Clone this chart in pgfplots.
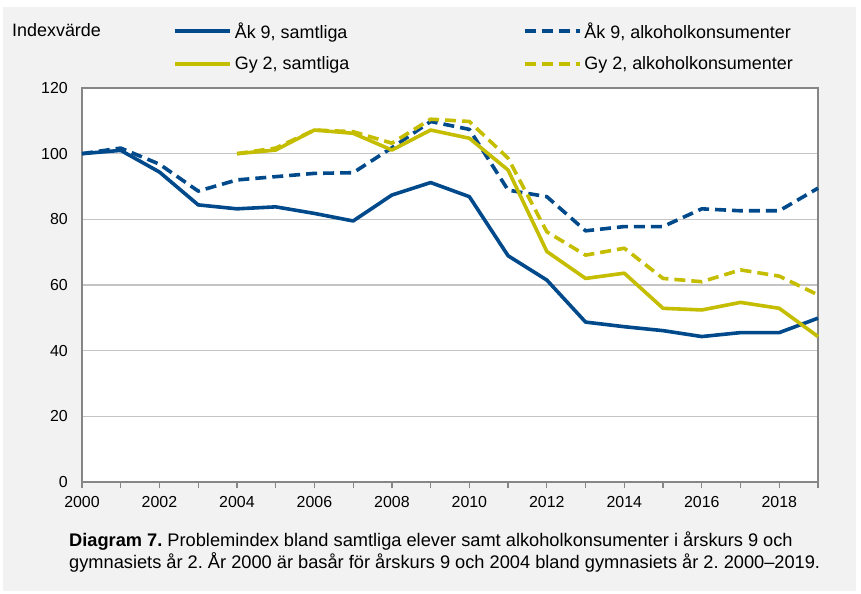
\documentclass[border=0pt]{standalone}
\usepackage{pgfplots}
\pgfplotsset{compat=1.18}
\usepackage{fontspec}
\setmainfont{Liberation Sans}
\frenchspacing
\definecolor{bl}{RGB}{0,74,140}
\definecolor{ye}{RGB}{196,189,0}
\definecolor{bg}{RGB}{242,242,242}
\definecolor{gridc}{RGB}{196,196,196}
\definecolor{axc}{RGB}{134,134,134}

\pgfplotstableread{
year a9s a9a
2000 100 100
2001 101 101.7
2002 94.4 96.8
2003 84.4 88.6
2004 83.2 92.0
2005 83.8 93.0
2006 81.8 94.0
2007 79.5 94.2
2008 87.4 101.8
2009 91.2 109.8
2010 86.9 107.4
2011 68.9 88.9
2012 61.5 86.9
2013 48.7 76.5
2014 47.3 77.8
2015 46.1 77.8
2016 44.3 83.2
2017 45.5 82.6
2018 45.5 82.6
2019 49.9 89.5
}\akdata

\pgfplotstableread{
year g2s g2a
2004 100 100
2005 101.1 101.7
2006 107.2 107.2
2007 106.2 106.7
2008 101.1 103.2
2009 107.2 110.5
2010 104.7 109.8
2011 95.0 98.6
2012 70.2 76.2
2013 62.0 69.1
2014 63.6 71.2
2015 52.9 62.0
2016 52.4 61.0
2017 54.7 64.6
2018 52.9 62.7
2019 44.3 57.0
}\gydata

\begin{document}
\begin{tikzpicture}
\path[fill=white,use as bounding box] (0,0) rectangle (861bp,-594bp);
\fill[bg] (3bp,-7bp) rectangle (856bp,-591bp);
\node[anchor=base west, inner sep=0pt, font=\fontsize{18}{21}\selectfont] at (12bp,-36bp) {Indexvärde};
\begin{axis}[
  at={(82bp,-482bp)}, anchor=south west,
  scale only axis, width=736bp, height=394bp,
  xmin=2000, xmax=2019, ymin=0, ymax=120,
  clip=false,
  axis background/.style={fill=white},
  axis line style={axc, line width=1.6bp},
  xtick={2000,2002,...,2018},
  minor xtick={2001,2003,...,2019},
  xtick pos=bottom, ytick pos=left,
  tick align=outside,
  major tick length=6bp, minor tick length=6bp,
  xtick style={axc, line width=1.3bp},
  minor tick style={axc, line width=1.3bp},
  ytick={0,20,...,120},
  ytick style={draw=none},
  ymajorgrids,
  grid style={gridc, line width=1.3bp},
  /pgf/number format/assume math mode=true,
  /pgf/number format/1000 sep={},
  xticklabel style={inner sep=0pt, yshift=-8bp, font=\fontsize{16}{19}\selectfont},
  yticklabel style={inner sep=0pt, xshift=-8bp, font=\fontsize{16}{19}\selectfont},
  legend columns=2,
  legend cell align=left,
  legend style={draw=none, fill=none, inner sep=0pt,
    at={(axis description cs:0.1237,1.167)}, anchor=north west,
    font=\fontsize{18}{21}\selectfont,
    row sep=17bp,
    nodes={inner sep=0pt},
    /tikz/every even column/.append style={column sep=3bp},
    /tikz/every odd column/.append style={column sep=0bp}},
  legend image code/.code={\draw[#1] (0bp,0bp) -- (55bp,0bp);},
  every axis plot/.append style={line width=3.6bp, line join=round},
]
\addplot[bl] table[x=year,y=a9s] {\akdata};
\addlegendentry{\makebox[288bp][l]{\kern3bp Åk 9, samtliga}}
\addplot[bl, dash pattern=on 11bp off 6bp] table[x=year,y=a9a] {\akdata};
\addlegendentry{\kern3bp Åk 9, alkoholkonsumenter}
\addplot[ye] table[x=year,y=g2s] {\gydata};
\addlegendentry{\makebox[288bp][l]{\kern3bp Gy 2, samtliga}}
\addplot[ye, dash pattern=on 11bp off 6bp] table[x=year,y=g2a] {\gydata};
\addlegendentry{\kern3bp Gy 2, alkoholkonsumenter}
\end{axis}
\node[anchor=base west, inner sep=0pt, font=\fontsize{18.3}{22}\selectfont] at (69bp,-546bp) {\textbf{Diagram 7.} Problemindex bland samtliga elever samt alkoholkonsumenter i årskurs 9 och};
\node[anchor=base west, inner sep=0pt, font=\fontsize{18.3}{22}\selectfont] at (69bp,-568bp) {gymnasiets år 2. År 2000 är basår för årskurs 9 och 2004 bland gymnasiets år 2. 2000–2019.};
\end{tikzpicture}
\end{document}
